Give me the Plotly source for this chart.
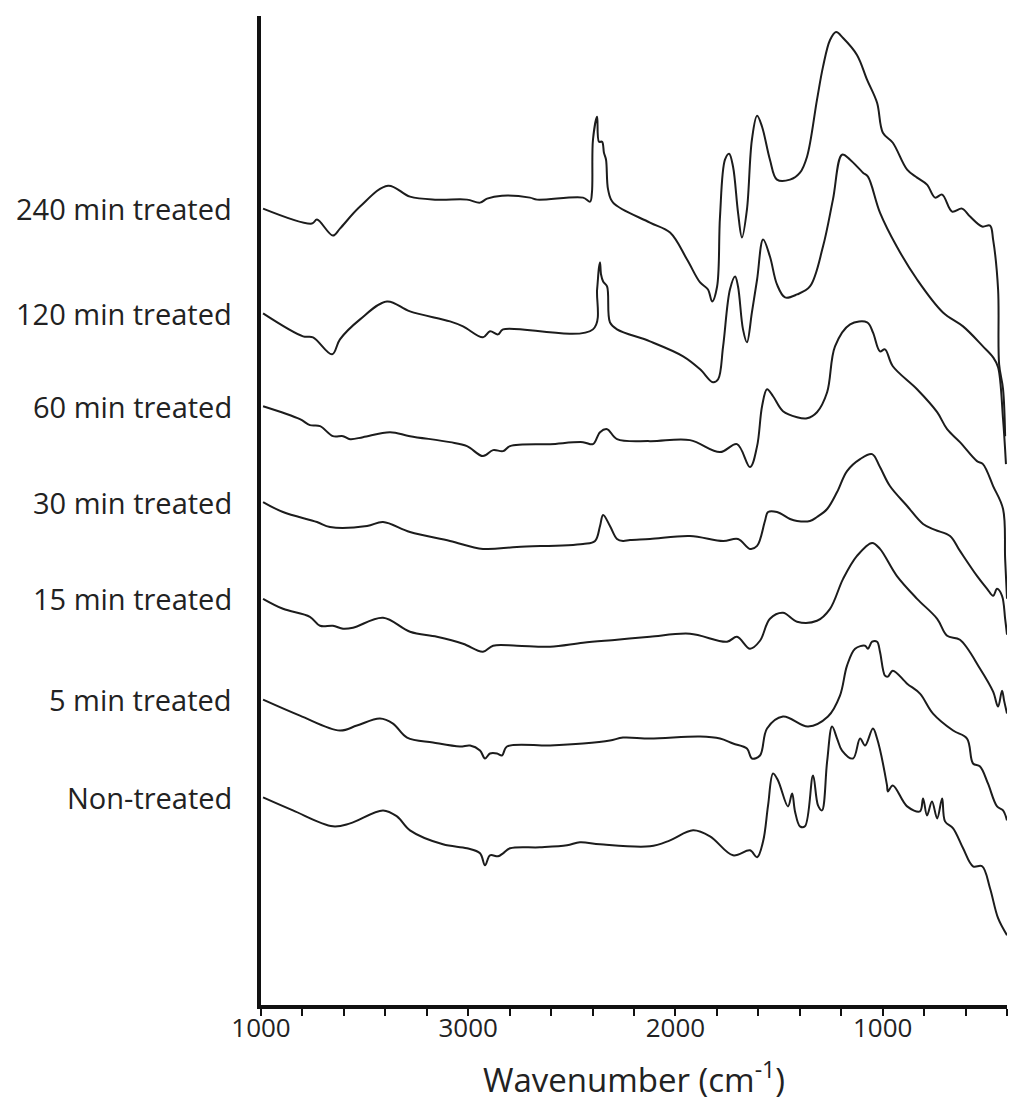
import plotly.graph_objects as go

# ---- data (wavenumber in cm-1, intensity in a.u.) ----
sample_names = ["240 min treated", "120 min treated", "60 min treated", "30 min treated",
                "15 min treated", "5 min treated", "Non-treated"]

wn_240 = [3990, 3754, 3730, 3653, 3619, 3522, 3387, 3281, 3151, 3006, 2943, 2909, 2837, 2702, 2668,
          2446, 2412, 2403, 2398, 2378, 2369, 2354, 2345, 2335, 2325, 2301, 2123, 2026, 1944, 1881,
          1843, 1823, 1799, 1785, 1761, 1741, 1722, 1698, 1679, 1655, 1631, 1606, 1582, 1544, 1510,
          1447, 1399, 1365, 1317, 1288, 1254, 1225, 1191, 1124, 1075, 1027, 999, 951, 882, 834, 786,
          747, 713, 665, 617, 578, 520, 482, 467, 443, 438, 419, 409]
ab_240 = [798, 783, 787, 771, 778, 800, 821, 810, 807, 807, 804, 808, 811, 809, 807,
          809, 805, 814, 867, 890, 865, 865, 854, 847, 817, 804, 784, 774, 747, 724,
          717, 705, 720, 790, 847, 853, 840, 794, 769, 797, 867, 891, 880, 847, 827,
          827, 834, 850, 907, 940, 967, 975, 969, 952, 927, 904, 874, 864, 837, 829, 822,
          809, 812, 795, 798, 790, 780, 781, 767, 717, 642, 617, 570]

wn_120 = [3990, 3797, 3749, 3657, 3619, 3522, 3392, 3281, 3088, 3025, 2929, 2895, 2856, 2832, 2398,
          2378, 2369, 2364, 2359, 2349, 2330, 2316, 2282, 2123, 1963, 1881, 1819, 1794, 1770, 1737,
          1712, 1698, 1674, 1655, 1631, 1606, 1577, 1544, 1510, 1471, 1413, 1351, 1288, 1240, 1196,
          1157, 1095, 1071, 1013, 932, 834, 709, 612, 516, 467, 443, 419, 405]
ab_120 = [693, 670, 669, 652, 667, 687, 705, 695, 685, 680, 669, 675, 672, 677, 677,
          717, 739, 744, 732, 725, 720, 684, 677, 665, 650, 637, 624, 627, 660, 717,
          730, 720, 677, 664, 694, 727, 767, 750, 722, 709, 712, 720, 760, 807, 852,
          847, 834, 830, 794, 760, 727, 694, 680, 660, 649, 639, 587, 542]

wn_60 = [3990, 3812, 3764, 3715, 3653, 3604, 3570, 3508, 3377, 3281, 3088, 3006, 2929, 2880, 2832,
         2798, 2605, 2446, 2398, 2364, 2330, 2282, 2123, 1930, 1785, 1703, 1640, 1606, 1582, 1558,
         1529, 1481, 1413, 1365, 1317, 1268, 1230, 1157, 1075, 1047, 1013, 989, 951, 834, 737,
         689, 627, 545, 516, 467, 419, 409, 400]
ab_60 = [600, 587, 581, 580, 570, 570, 567, 569, 574, 570, 564, 560, 550, 556, 555,
         560, 562, 564, 562, 574, 577, 567, 565, 566, 554, 562, 539, 560, 600, 617,
         610, 595, 589, 588, 594, 614, 660, 682, 684, 674, 655, 657, 640, 617, 594,
         577, 564, 545, 542, 520, 497, 447, 407]

wn_30 = [3990, 3894, 3730, 3667, 3488, 3411, 3281, 3088, 2929, 2765, 2446, 2388, 2364, 2349, 2316,
         2282, 2253, 2219, 2123, 1930, 1770, 1698, 1640, 1606, 1568, 1553, 1510, 1447, 1413, 1351,
         1317, 1268, 1220, 1172, 1109, 1051, 1013, 965, 882, 805, 747, 675, 627, 545, 496,
         467, 448, 424, 409, 400]
ab_30 = [504, 494, 484, 479, 480, 484, 474, 465, 457, 459, 462, 465, 480, 491, 480,
         467, 465, 466, 467, 470, 465, 467, 457, 460, 485, 494, 494, 487, 485, 485,
         489, 497, 514, 535, 547, 552, 539, 520, 500, 482, 476, 470, 455, 430, 417,
         410, 417, 410, 387, 371]

wn_15 = [3990, 3894, 3764, 3715, 3653, 3604, 3556, 3411, 3281, 3151, 3025, 2929, 2880, 2765, 2605,
         2446, 2282, 2123, 1930, 1751, 1703, 1640, 1592, 1544, 1481, 1413, 1317, 1254, 1191, 1124,
         1051, 1013, 932, 834, 737, 689, 627, 530, 467, 443, 424, 414, 400]
ab_15 = [407, 397, 389, 380, 380, 377, 378, 388, 374, 369, 362, 354, 360, 360, 359,
         363, 366, 369, 372, 364, 369, 357, 365, 387, 393, 384, 385, 397, 427, 450,
         463, 457, 430, 407, 387, 370, 366, 337, 314, 299, 315, 305, 292]

wn_5 = [3990, 3812, 3619, 3537, 3426, 3363, 3295, 3170, 3040, 2991, 2943, 2919, 2895, 2861, 2837,
        2813, 2605, 2446, 2316, 2253, 2123, 1881, 1785, 1722, 1655, 1631, 1592, 1558, 1481, 1360,
        1264, 1206, 1172, 1133, 1085, 1071, 1051, 1027, 1013, 989, 975, 951, 882, 820, 757,
        660, 593, 564, 530, 492, 448, 419, 400]
ab_5 = [306, 290, 275, 280, 287, 282, 268, 263, 259, 260, 255, 247, 252, 252, 250,
        259, 260, 262, 265, 268, 267, 269, 267, 262, 257, 247, 250, 277, 289, 279,
        289, 310, 340, 357, 360, 357, 364, 364, 354, 330, 329, 335, 322, 312, 292,
        275, 267, 242, 239, 222, 199, 195, 185]

wn_0 = [3990, 3846, 3653, 3570, 3411, 3344, 3281, 3122, 3006, 2943, 2919, 2895, 2856, 2832, 2798,
        2654, 2523, 2461, 2364, 2123, 2026, 1915, 1833, 1722, 1640, 1606, 1577, 1553, 1529, 1505,
        1457, 1437, 1423, 1399, 1375, 1336, 1312, 1293, 1268, 1244, 1220, 1196, 1143, 1109, 1085,
        1047, 1027, 979, 975, 951, 882, 820, 805, 786, 762, 737, 713, 699, 660, 612,
        564, 520, 482, 443, 400]
ab_0 = [208, 195, 179, 182, 195, 189, 175, 161, 157, 152, 140, 150, 149, 152, 157,
        158, 160, 163, 161, 159, 165, 175, 169, 150, 155, 148, 164, 200, 232, 225,
        199, 212, 194, 179, 179, 230, 200, 195, 244, 279, 267, 255, 247, 267, 260,
        277, 267, 220, 214, 220, 199, 194, 207, 190, 204, 187, 207, 184, 177, 157,
        139, 139, 117, 87, 70]

series_wn = [wn_240, wn_120, wn_60, wn_30, wn_15, wn_5, wn_0]
series_ab = [ab_240, ab_120, ab_60, ab_30, ab_15, ab_5, ab_0]

major_tick_values = [4000, 3000, 2000, 1000]
major_tick_labels = ["1000", "3000", "2000", "1000"]
minor_tick_values = list(range(4000, 399, -200))

# ---- figure ----
fig = go.Figure()
line_color = "#1c1c1c"
for name, xs, ys in zip(sample_names, series_wn, series_ab):
    fig.add_trace(go.Scatter(x=xs, y=ys, mode="lines", name=name,
                             line=dict(color=line_color, width=2),
                             line_shape="spline", showlegend=False))
    fig.add_annotation(x=0, xref="paper", y=ys[0], yref="y", text=name,
                       showarrow=False, xanchor="right", yanchor="middle", xshift=-27,
                       font=dict(family="Open Sans, Noto Sans, sans-serif", size=29, color="#222"))

fig.update_layout(
    width=1009, height=1102,
    margin=dict(l=261, r=2, t=16, b=95),
    paper_bgcolor="white", plot_bgcolor="white",
)
fig.update_xaxes(
    range=[4000, 400], showgrid=False, zeroline=False,
    showline=True, linewidth=3.5, linecolor="#111",
    ticks="outside", ticklen=7, tickwidth=2, tickcolor="#111",
    tickmode="array", tickvals=major_tick_values, ticktext=major_tick_labels,
    ticklabelstandoff=-10,
    minor=dict(tickmode="array", tickvals=minor_tick_values, ticks="outside",
               ticklen=7, tickwidth=2, tickcolor="#111", showgrid=False),
    tickfont=dict(family="Open Sans, Noto Sans, sans-serif", size=26, color="#222"),
    title=dict(text="Wavenumber (cm<sup>-1</sup>)", standoff=32,
               font=dict(family="Open Sans, Noto Sans, sans-serif", size=33, color="#222")),
)
fig.update_yaxes(
    range=[0, 991], showgrid=False, zeroline=False,
    showline=True, linewidth=3.5, linecolor="#111",
    showticklabels=False, ticks="",
)

fig.write_html("out.html")
